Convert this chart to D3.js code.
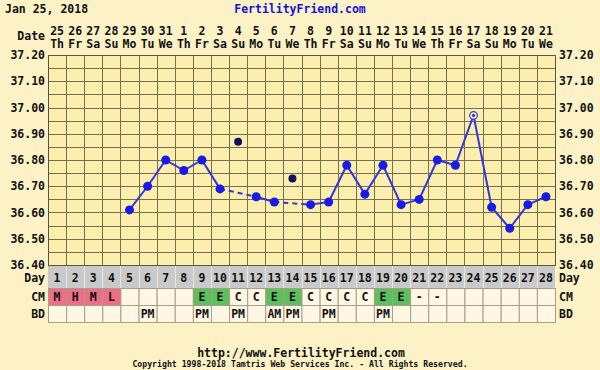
<!DOCTYPE html>
<html><head><meta charset="utf-8">
<script src="https://cdn.jsdelivr.net/npm/d3@7"></script>
<style>
html,body{margin:0;padding:0;background:#FCF2C6;}
svg{display:block;}
text{font-family:"DejaVu Sans Mono",monospace;font-weight:bold;fill:#111;}
</style></head><body>
<svg id="c" width="600" height="370"></svg>
<script>
const cycleDays = d3.range(1, 29);
const dateNums = ["25","26","27","28","29","30","31","1","2","3","4","5","6","7","8","9","10","11","12","13","14","15","16","17","18","19","20","21"];
const dayNames = ["Th","Fr","Sa","Su","Mo","Tu","We","Th","Fr","Sa","Su","Mo","Tu","We","Th","Fr","Sa","Su","Mo","Tu","We","Th","Fr","Sa","Su","Mo","Tu","We"];
const temps = [null,null,null,null,36.61,36.70,36.80,36.76,36.80,36.69,36.87,36.66,36.64,36.73,36.63,36.64,36.78,36.67,36.78,36.63,36.65,36.80,36.78,36.97,36.62,36.54,36.63,36.66];
const excludedDays = [11, 14];
const openMarkerDays = [24];
const cmCodes = ["M","H","M","L","","","","","E","E","C","C","E","E","C","C","C","C","E","E","-","-","","","","","",""];
const bdCodes = ["","","","","","PM","","","PM","","PM","","AM","PM","","PM","","","PM","","","","","","","","",""];
const tempTicks = [36.40,36.50,36.60,36.70,36.80,36.90,37.00,37.10,37.20];
const gridTicks = d3.range(0, 17).map(i => +(36.40 + i * 0.05).toFixed(2));
const titleDate = "Jan 25, 2018";
const siteName = "FertilityFriend.com";
const footerUrl = "http://www.FertilityFriend.com";
const copyright = "Copyright 1998-2018 Tamtris Web Services Inc. - All Rights Reserved.";

const svg = d3.select("#c");
const L = 48, R = 555, T = 55, B = 265;
const dayRowB = 288, cmRowB = 305, bdRowB = 322;
const x = d3.scaleBand().domain(cycleDays).range([L, R]).paddingInner(0).paddingOuter(0);
const y = d3.scaleLinear().domain([36.4, 37.2]).range([B, T]);
const gridCol = "#767052";

svg.append("rect").attr("width",600).attr("height",370).attr("fill","#FCF2C6");
svg.append("rect").attr("x",L).attr("y",T).attr("width",R-L).attr("height",B-T).attr("fill","#FCEFAE");

// grid horizontal
svg.append("g").selectAll("line").data(gridTicks).join("line")
  .attr("x1",L).attr("x2",R).attr("y1",d=>Math.round(y(d))+0.5).attr("y2",d=>Math.round(y(d))+0.5)
  .attr("stroke",gridCol).attr("stroke-width",1);
// grid vertical
svg.append("g").selectAll("line").data(cycleDays.concat([29])).join("line")
  .attr("x1",d=>Math.round(d<=28?x(d):R)+0.5).attr("x2",d=>Math.round(d<=28?x(d):R)+0.5)
  .attr("y1",T).attr("y2",B).attr("stroke",gridCol).attr("stroke-width",1);

// temp axes labels
const fmt = d3.format(".2f");
const axL = svg.append("g").attr("transform",`translate(${L-3},0)`)
  .call(d3.axisLeft(y).tickValues(tempTicks).tickFormat(fmt).tickSize(0).tickPadding(0));
const axR = svg.append("g").attr("transform",`translate(${R+4},0)`)
  .call(d3.axisRight(y).tickValues(tempTicks).tickFormat(fmt).tickSize(0).tickPadding(0));
[axL, axR].forEach(a => { a.select(".domain").remove(); a.selectAll("text").attr("font-size",11.5).attr("font-family","DejaVu Sans Mono").attr("font-weight","bold").attr("fill","#111"); });

// top date axes
const axD = svg.append("g").attr("transform",`translate(0,35)`)
  .call(d3.axisTop(x).tickFormat((d,i)=>dateNums[i]).tickSize(0).tickPadding(0));
const axN = svg.append("g").attr("transform",`translate(0,48)`)
  .call(d3.axisTop(x).tickFormat((d,i)=>dayNames[i]).tickSize(0).tickPadding(0));
[axD, axN].forEach(a => { a.select(".domain").remove(); a.selectAll("text").attr("font-size",11.5).attr("font-family","DejaVu Sans Mono").attr("font-weight","bold").attr("fill","#111"); });

svg.append("text").attr("x",45).attr("y",40).attr("text-anchor","end").attr("font-size",11.5).text("Date");
svg.append("text").attr("x",5).attr("y",13).attr("font-size",11.5).text(titleDate);
svg.append("text").attr("x",300).attr("y",13).attr("text-anchor","middle").attr("font-size",11.5).style("fill","#1414D8").text(siteName);

// day row
svg.append("rect").attr("x",L).attr("y",B).attr("width",R-L).attr("height",dayRowB-B).attr("fill","#C9C9C9");
svg.append("g").selectAll("line").data(cycleDays.slice(1)).join("line")
  .attr("x1",d=>Math.round(x(d))+0.5).attr("x2",d=>Math.round(x(d))+0.5).attr("y1",B).attr("y2",dayRowB)
  .attr("stroke","#E6E6E6").attr("stroke-width",1);
svg.append("g").selectAll("text").data(cycleDays).join("text")
  .attr("x",d=>x(d)+x.bandwidth()/2).attr("y",dayRowB-6).attr("text-anchor","middle").attr("font-size",11.5).text(d=>d);

// CM row
const cmFill = c => (c==="M"||c==="H"||c==="L") ? "#EE6E88" : (c==="E" ? "#5CC15C" : "#FFF6E4");
svg.append("g").selectAll("rect").data(cycleDays).join("rect")
  .attr("x",d=>x(d)+0.5).attr("y",dayRowB+0.5).attr("width",x.bandwidth()).attr("height",cmRowB-dayRowB)
  .attr("fill",(d,i)=>cmFill(cmCodes[i])).attr("stroke","#A59F88").attr("stroke-width",1);
svg.append("g").selectAll("text").data(cycleDays).join("text")
  .attr("x",d=>x(d)+x.bandwidth()/2).attr("y",cmRowB-4).attr("text-anchor","middle").attr("font-size",11.5).text((d,i)=>cmCodes[i]);
// BD row
svg.append("g").selectAll("rect").data(cycleDays).join("rect")
  .attr("x",d=>x(d)+0.5).attr("y",cmRowB+0.5).attr("width",x.bandwidth()).attr("height",bdRowB-cmRowB)
  .attr("fill","#FFF6E4").attr("stroke","#A59F88").attr("stroke-width",1);
svg.append("g").selectAll("text").data(cycleDays).join("text")
  .attr("x",d=>x(d)+x.bandwidth()/2).attr("y",bdRowB-4).attr("text-anchor","middle").attr("font-size",11.5).text((d,i)=>bdCodes[i]);

// row labels
[["Day",dayRowB-6],["CM",cmRowB-4],["BD",bdRowB-4]].forEach(([t,yy])=>{
  svg.append("text").attr("x",45).attr("y",yy).attr("text-anchor","end").attr("font-size",11.5).text(t);
  svg.append("text").attr("x",R+4).attr("y",yy).attr("font-size",11.5).text(t);
});

// plot border
svg.append("rect").attr("x",L+0.5).attr("y",T+0.5).attr("width",R-L).attr("height",B-T).attr("fill","none").attr("stroke","#5a5440");

// temperature line
const pts = cycleDays.map((d,i)=>({day:d,t:temps[i]})).filter(p=>p.t!==null);
const valid = pts.filter(p=>!excludedDays.includes(p.day));
const cx = d => x(d) + x.bandwidth()/2;
const segs = [];
for (let i=1;i<valid.length;i++) segs.push([valid[i-1],valid[i]]);
svg.append("g").selectAll("line").data(segs).join("line")
  .attr("x1",s=>cx(s[0].day)).attr("y1",s=>y(s[0].t)).attr("x2",s=>cx(s[1].day)).attr("y2",s=>y(s[1].t))
  .attr("stroke","#3535DA").attr("stroke-width",2)
  .attr("stroke-dasharray",s=>s[1].day-s[0].day>1?"5,4":null);
// markers
svg.append("g").selectAll("circle").data(valid.filter(p=>!openMarkerDays.includes(p.day))).join("circle")
  .attr("cx",p=>cx(p.day)).attr("cy",p=>y(p.t)).attr("r",4.5).attr("fill","#1A1AE6");
svg.append("g").selectAll("circle").data(pts.filter(p=>excludedDays.includes(p.day))).join("circle")
  .attr("cx",p=>cx(p.day)).attr("cy",p=>y(p.t)).attr("r",4).attr("fill","#10105E");
const om = svg.append("g").selectAll("g").data(valid.filter(p=>openMarkerDays.includes(p.day))).join("g");
om.append("circle").attr("cx",p=>cx(p.day)).attr("cy",p=>y(p.t)).attr("r",3.8).attr("fill","#F4EEE0").attr("stroke","#3535DA").attr("stroke-width",1.2);
om.append("circle").attr("cx",p=>cx(p.day)).attr("cy",p=>y(p.t)).attr("r",1.6).attr("fill","#3535DA");

// footer
svg.append("text").attr("x",301).attr("y",357).attr("text-anchor","middle").attr("font-size",11.5).text(footerUrl);
svg.append("text").attr("x",300).attr("y",367).attr("text-anchor","middle").attr("font-size",8.2).attr("font-weight","normal").text(copyright);
</script>
</body></html>
